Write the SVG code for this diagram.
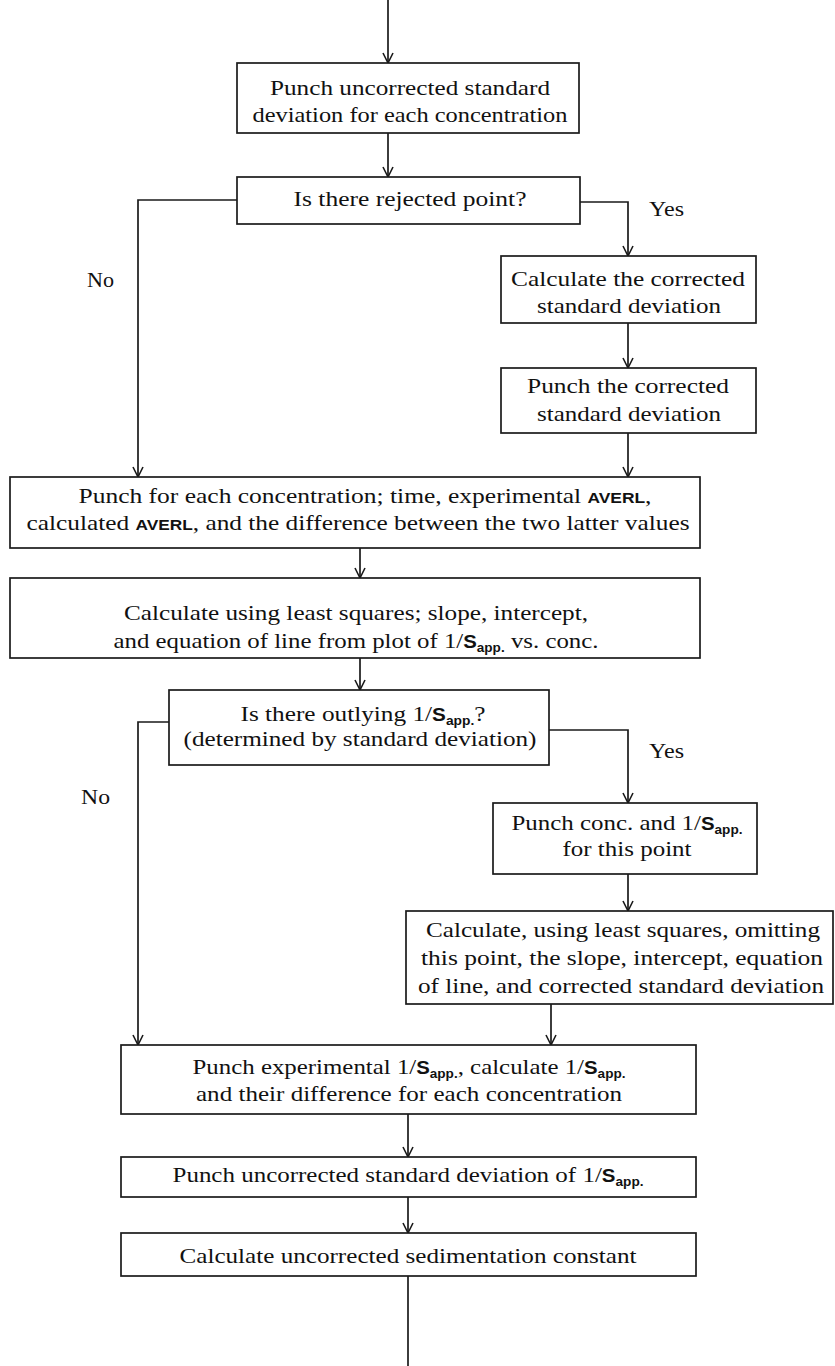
<svg xmlns="http://www.w3.org/2000/svg" width="835" height="1366" viewBox="0 0 835 1366">
<style>
.box{fill:#fff;stroke:#1a1a1a;stroke-width:1.7}
text{font-family:'Liberation Serif','DejaVu Serif',serif;font-size:22px;fill:#111}
.t{text-anchor:middle}
.s{font-family:'Liberation Sans','DejaVu Sans',sans-serif;font-weight:bold;font-size:18px}
.sub{font-family:'Liberation Sans','DejaVu Sans',sans-serif;font-weight:bold;font-size:12px}
.sc{font-family:'Liberation Sans','DejaVu Sans',sans-serif;font-weight:bold;font-size:15px}
.c{fill:none;stroke:#1a1a1a;stroke-width:1.7}
</style>
<defs>
<marker id="ah" markerWidth="14" markerHeight="14" refX="12" refY="7" orient="auto" markerUnits="userSpaceOnUse" viewBox="0 0 14 14">
<path d="M2,2 L12,7 L2,12" fill="none" stroke="#1a1a1a" stroke-width="1.6"/>
</marker>
</defs>
<rect width="835" height="1366" fill="#fff"/>
<g id="connectors">
<path class="c" d="M388,0 V63" marker-end="url(#ah)"/>
<path class="c" d="M388,133 V177" marker-end="url(#ah)"/>
<path class="c" d="M237,200 H138 V477" marker-end="url(#ah)"/>
<path class="c" d="M580,202 H628 V256" marker-end="url(#ah)"/>
<path class="c" d="M628,323 V368" marker-end="url(#ah)"/>
<path class="c" d="M628,433 V477" marker-end="url(#ah)"/>
<path class="c" d="M360,548 V578" marker-end="url(#ah)"/>
<path class="c" d="M360,658 V690" marker-end="url(#ah)"/>
<path class="c" d="M169,722 H138 V1045" marker-end="url(#ah)"/>
<path class="c" d="M549,730 H628 V803" marker-end="url(#ah)"/>
<path class="c" d="M628,874 V911" marker-end="url(#ah)"/>
<path class="c" d="M551,1004 V1045" marker-end="url(#ah)"/>
<path class="c" d="M408,1114 V1157" marker-end="url(#ah)"/>
<path class="c" d="M408,1197 V1233" marker-end="url(#ah)"/>
<path class="c" d="M408,1276 V1366"/>
<text font-family="Liberation Serif, serif" x="649" y="216" textLength="35" lengthAdjust="spacingAndGlyphs">Yes</text>
<text font-family="Liberation Serif, serif" x="87" y="287" textLength="27" lengthAdjust="spacingAndGlyphs">No</text>
<text font-family="Liberation Serif, serif" x="649" y="758" textLength="35" lengthAdjust="spacingAndGlyphs">Yes</text>
<text font-family="Liberation Serif, serif" x="81" y="804" textLength="29" lengthAdjust="spacingAndGlyphs">No</text>
</g>
<g id="n1">
<rect class="box" x="237" y="63" width="342" height="70"/>
<text class="t" x="410" y="95" textLength="280" lengthAdjust="spacingAndGlyphs">Punch uncorrected standard</text>
<text class="t" x="410" y="122" textLength="315" lengthAdjust="spacingAndGlyphs">deviation for each concentration</text>
</g>
<g id="n2">
<rect class="box" x="237" y="177" width="343" height="47"/>
<text class="t" x="410" y="206" textLength="233" lengthAdjust="spacingAndGlyphs">Is there rejected point?</text>
</g>
<g id="n3">
<rect class="box" x="501" y="256" width="255" height="67"/>
<text class="t" x="628" y="286" textLength="234" lengthAdjust="spacingAndGlyphs">Calculate the corrected</text>
<text class="t" x="629" y="313" textLength="184" lengthAdjust="spacingAndGlyphs">standard deviation</text>
</g>
<g id="n4">
<rect class="box" x="501" y="368" width="255" height="65"/>
<text class="t" x="628" y="393" textLength="202" lengthAdjust="spacingAndGlyphs">Punch the corrected</text>
<text class="t" x="629" y="421" textLength="184" lengthAdjust="spacingAndGlyphs">standard deviation</text>
</g>
<g id="n5">
<rect class="box" x="10" y="477" width="690" height="71"/>
<text class="t" x="365" y="503" textLength="573" lengthAdjust="spacingAndGlyphs">Punch for each concentration; time, experimental <tspan class="sc">AVERL</tspan>,</text>
<text class="t" x="358" y="530" textLength="663" lengthAdjust="spacingAndGlyphs">calculated <tspan class="sc">AVERL</tspan>, and the difference between the two latter values</text>
</g>
<g id="n6">
<rect class="box" x="10" y="578" width="690" height="80"/>
<text class="t" x="356" y="620" textLength="464" lengthAdjust="spacingAndGlyphs">Calculate using least squares; slope, intercept,</text>
<text class="t" x="356" y="648" textLength="485" lengthAdjust="spacingAndGlyphs">and equation of line from plot of 1/<tspan class="s">S</tspan><tspan class="sub" dy="4">app.</tspan><tspan dy="-4"> vs. conc.</tspan></text>
</g>
<g id="n7">
<rect class="box" x="169" y="690" width="380" height="75"/>
<text class="t" x="363" y="721" textLength="245" lengthAdjust="spacingAndGlyphs">Is there outlying 1/<tspan class="s">S</tspan><tspan class="sub" dy="4">app.</tspan><tspan dy="-4">?</tspan></text>
<text class="t" x="360" y="746" textLength="353" lengthAdjust="spacingAndGlyphs">(determined by standard deviation)</text>
</g>
<g id="n8">
<rect class="box" x="493" y="803" width="264" height="71"/>
<text class="t" x="627" y="830" textLength="231" lengthAdjust="spacingAndGlyphs">Punch conc. and 1/<tspan class="s">S</tspan><tspan class="sub" dy="4">app.</tspan></text>
<text class="t" x="627" y="856" textLength="129" lengthAdjust="spacingAndGlyphs">for this point</text>
</g>
<g id="n9">
<rect class="box" x="406" y="911" width="427" height="93"/>
<text class="t" x="623" y="937" textLength="394" lengthAdjust="spacingAndGlyphs">Calculate, using least squares, omitting</text>
<text class="t" x="622" y="965" textLength="402" lengthAdjust="spacingAndGlyphs">this point, the slope, intercept, equation</text>
<text class="t" x="621" y="993" textLength="406" lengthAdjust="spacingAndGlyphs">of line, and corrected standard deviation</text>
</g>
<g id="n10">
<rect class="box" x="121" y="1045" width="575" height="69"/>
<text class="t" x="409" y="1074" textLength="433" lengthAdjust="spacingAndGlyphs">Punch experimental 1/<tspan class="s">S</tspan><tspan class="sub" dy="4">app.</tspan><tspan dy="-4">, calculate 1/</tspan><tspan class="s">S</tspan><tspan class="sub" dy="4">app.</tspan></text>
<text class="t" x="409" y="1101" textLength="426" lengthAdjust="spacingAndGlyphs">and their difference for each concentration</text>
</g>
<g id="n11">
<rect class="box" x="121" y="1157" width="575" height="40"/>
<text class="t" x="408" y="1182" textLength="471" lengthAdjust="spacingAndGlyphs">Punch uncorrected standard deviation of 1/<tspan class="s">S</tspan><tspan class="sub" dy="4">app.</tspan></text>
</g>
<g id="n12">
<rect class="box" x="121" y="1233" width="575" height="43"/>
<text class="t" x="408" y="1263" textLength="457" lengthAdjust="spacingAndGlyphs">Calculate uncorrected sedimentation constant</text>
</g>
</svg>
